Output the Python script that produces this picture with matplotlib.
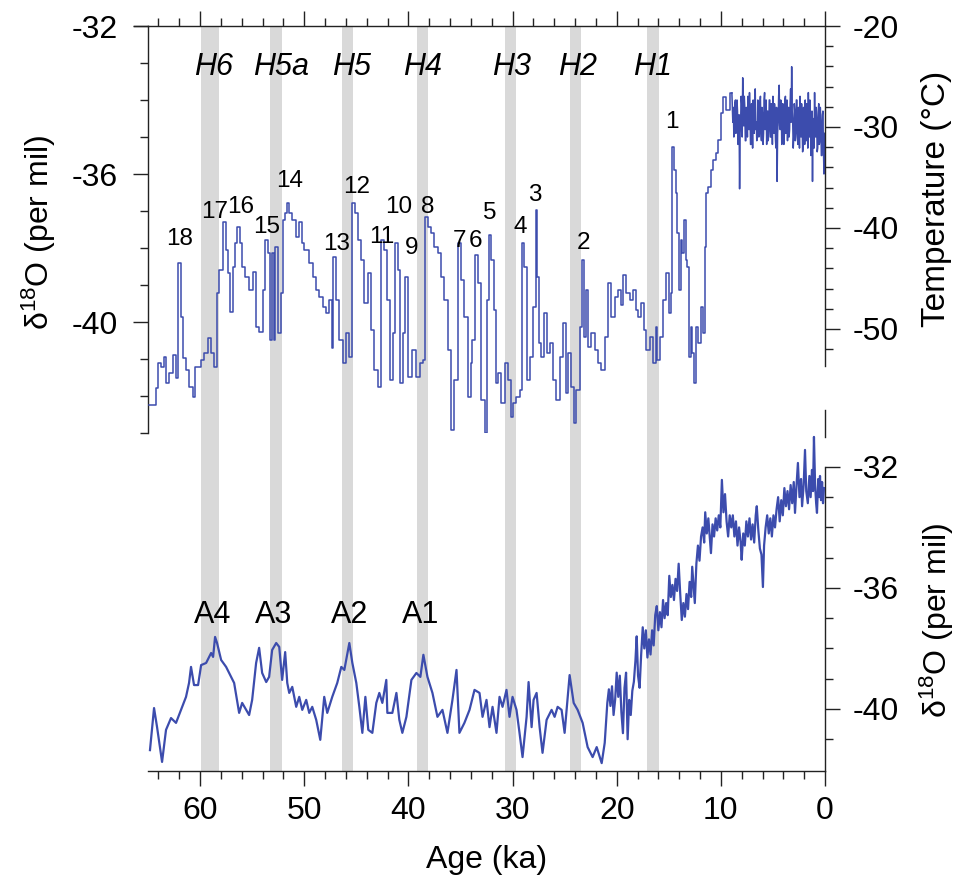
import matplotlib
matplotlib.use("Agg")
import matplotlib.pyplot as plt
from matplotlib.ticker import MultipleLocator, FixedLocator
from matplotlib.lines import Line2D

plt.rcParams['font.family'] = ['Liberation Sans', 'DejaVu Sans']
plt.rcParams['mathtext.fontset'] = 'custom'
plt.rcParams['mathtext.rm'] = 'Liberation Sans'
plt.rcParams['mathtext.it'] = 'Liberation Sans:italic'
plt.rcParams['axes.unicode_minus'] = False

# ---------------- data ----------------
# upper record, glacial part (age ka, d18O per mil)
top_glacial_age = [64.90, 64.42, 64.13, 63.94, 63.65, 63.37, 63.17, 62.79, 62.50, 62.21,
    62.02, 61.73, 61.54, 61.25, 60.87, 60.58, 60.38, 60.10, 59.81, 59.42,
    59.13, 58.85, 58.46, 58.37, 57.98, 57.69, 57.40, 57.21, 57.02, 56.73,
    56.54, 56.35, 56.06, 55.87, 55.48, 55.10, 54.81, 54.52, 54.13, 53.85,
    53.65, 53.37, 53.17, 52.98, 52.88, 52.69, 52.40, 52.12, 52.02, 51.73,
    51.63, 51.35, 50.96, 50.67, 50.29, 50.19, 49.81, 49.33, 49.04, 48.75,
    48.37, 48.08, 47.79, 47.40, 47.31, 47.12, 46.83, 46.44, 46.15, 45.87,
    45.48, 45.29, 45.00, 44.71, 44.42, 44.04, 43.75, 43.46, 43.08, 42.79,
    42.50, 42.12, 41.92, 41.63, 41.35, 41.15, 40.87, 40.67, 40.38, 40.19,
    39.90, 39.42, 39.13, 38.65, 38.46, 38.27, 37.98, 37.69, 37.31, 37.02,
    36.73, 36.35, 36.06, 35.77, 35.38, 35.10, 34.81, 34.42, 34.13, 33.94,
    33.75, 33.46, 33.17, 32.88, 32.50, 32.31, 32.21, 31.92, 31.73, 31.54,
    31.25, 30.96, 30.58, 30.29, 30.10, 29.81, 29.52, 29.13, 29.04, 28.75,
    28.56, 28.17, 27.88, 27.69, 27.60, 27.40, 27.12, 26.83, 26.54, 26.25,
    25.96, 25.67, 25.29, 25.00, 24.81, 24.52, 24.23, 24.04, 23.75, 23.37,
    23.27, 23.08, 22.88, 22.60, 22.31, 21.92, 21.63, 21.35, 20.96, 20.67,
    20.38, 20.00, 19.71, 19.52, 19.23, 18.94, 18.56, 18.27, 18.08, 17.79,
    17.50, 17.31, 17.02, 16.63, 16.35, 16.15, 16.06, 15.67, 15.38, 15.10,
    14.90, 14.71, 14.62, 14.42, 14.23, 14.13, 13.94, 13.75, 13.65, 13.46,
    13.27, 13.17, 12.98, 12.79, 12.69, 12.50, 12.31, 12.02, 11.83, 11.63,
    11.44, 11.35, 11.06, 10.87, 10.58, 10.38, 10.10, 9.90, 9.62, 9.33, 8.94]
top_glacial_d18o = [-42.24, -42.24, -41.78, -41.11, -41.22, -40.95, -41.65, -41.38, -40.89, -41.51,
    -38.41, -39.86, -40.97, -41.30, -41.76, -42.03, -41.22, -41.22, -41.03, -40.84,
    -40.43, -40.84, -41.22, -39.22, -38.59, -37.30, -38.05, -38.68, -39.73, -38.51,
    -37.86, -37.43, -37.86, -38.51, -38.78, -39.14, -38.65, -40.14, -40.27, -39.14,
    -37.78, -38.14, -40.49, -38.14, -40.49, -37.97, -40.30, -39.22, -37.24, -37.05,
    -36.78, -37.05, -37.24, -37.70, -37.30, -37.86, -38.05, -38.41, -38.78, -39.14,
    -39.32, -39.59, -39.76, -39.41, -40.70, -38.24, -39.41, -40.49, -41.11, -40.30,
    -40.95, -36.78, -37.05, -37.78, -38.32, -39.49, -38.68, -40.22, -41.30, -41.76,
    -37.78, -38.05, -39.41, -41.57, -40.30, -37.86, -38.59, -41.65, -40.30, -38.78,
    -41.49, -40.76, -41.49, -41.11, -41.03, -37.16, -37.43, -37.59, -37.97, -38.14,
    -38.78, -39.41, -40.76, -42.92, -41.57, -37.86, -38.86, -39.86, -42.03, -41.11,
    -40.49, -38.19, -38.95, -42.11, -43.00, -39.41, -37.65, -38.32, -39.68, -41.65,
    -41.38, -42.19, -41.11, -41.57, -42.57, -42.19, -42.03, -41.84, -37.86, -38.51,
    -41.57, -40.95, -39.59, -36.97, -38.78, -40.57, -40.95, -39.76, -40.84, -40.57,
    -41.57, -42.11, -40.95, -40.03, -41.92, -40.84, -41.76, -42.73, -41.84, -40.14,
    -38.32, -40.41, -39.14, -40.68, -40.30, -40.76, -41.11, -41.30, -40.41, -38.95,
    -39.86, -39.32, -39.14, -39.54, -38.73, -39.22, -39.41, -39.14, -39.68, -39.86,
    -39.49, -40.22, -40.76, -40.41, -41.11, -40.14, -41.03, -40.41, -39.41, -38.68,
    -39.76, -39.22, -35.27, -35.89, -36.51, -37.59, -39.14, -37.78, -38.14, -37.24,
    -38.32, -38.51, -40.95, -40.14, -40.84, -41.65, -40.14, -40.57, -39.59, -40.30,
    -37.97, -36.51, -36.35, -35.89, -35.62, -35.43, -35.08, -34.35, -33.92, -34.27, -33.81]

# upper record, Holocene part
top_holocene_age = [8.94, 8.85, 8.8, 8.75, 8.7, 8.65, 8.6, 8.55, 8.5, 8.45, 8.4, 8.35, 8.3, 8.25,
    8.2, 8.15, 8.1, 8.05, 8.0, 7.95, 7.9, 7.85, 7.8, 7.75, 7.7, 7.65, 7.6, 7.55,
    7.5, 7.45, 7.4, 7.35, 7.3, 7.25, 7.2, 7.15, 7.1, 7.05, 7.0, 6.95, 6.9, 6.85,
    6.8, 6.75, 6.7, 6.65, 6.6, 6.55, 6.5, 6.45, 6.4, 6.35, 6.3, 6.25, 6.2, 6.15,
    6.1, 6.05, 6.0, 5.95, 5.9, 5.85, 5.8, 5.75, 5.7, 5.65, 5.6, 5.55, 5.5, 5.45,
    5.4, 5.35, 5.3, 5.25, 5.2, 5.15, 5.1, 5.05, 5.0, 4.95, 4.9, 4.85, 4.8, 4.75,
    4.7, 4.65, 4.6, 4.55, 4.5, 4.45, 4.4, 4.35, 4.3, 4.25, 4.2, 4.15, 4.1, 4.05,
    4.0, 3.95, 3.9, 3.85, 3.8, 3.75, 3.7, 3.65, 3.6, 3.55, 3.5, 3.45, 3.4, 3.35,
    3.3, 3.25, 3.2, 3.15, 3.1, 3.05, 3.0, 2.95, 2.9, 2.85, 2.8, 2.75, 2.7, 2.65,
    2.6, 2.55, 2.5, 2.45, 2.4, 2.35, 2.3, 2.25, 2.2, 2.15, 2.1, 2.05, 2.0, 1.95,
    1.9, 1.85, 1.8, 1.75, 1.7, 1.65, 1.6, 1.55, 1.5, 1.45, 1.4, 1.35, 1.3, 1.25,
    1.2, 1.15, 1.1, 1.05, 1.0, 0.95, 0.9, 0.85, 0.8, 0.75, 0.7, 0.65, 0.6, 0.55,
    0.5, 0.45, 0.4, 0.35, 0.3, 0.25, 0.2, 0.15, 0.1, 0.05]
top_holocene_d18o = [-33.81, -34.6, -34.2, -35.0, -34.9, -34.1, -34.0, -34.9, -34.8, -34.0,
    -34.3, -35.2, -35.0, -34.4, -36.4, -34.9, -34.6, -33.9, -34.1, -35.0,
    -33.4, -34.5, -34.7, -33.9, -34.2, -35.1, -35.1, -34.2, -34.4, -35.0,
    -33.9, -34.6, -34.8, -33.8, -34.3, -35.2, -35.2, -34.1, -34.5, -35.3,
    -34.0, -34.7, -34.9, -34.0, -33.7, -34.8, -34.6, -35.1, -35.0, -34.0,
    -34.2, -35.0, -34.8, -34.1, -33.9, -34.9, -35.1, -34.2, -34.4, -35.2,
    -34.9, -34.0, -33.8, -34.8, -34.7, -34.0, -35.2, -34.3, -34.3, -35.1,
    -34.8, -34.0, -34.0, -35.0, -35.0, -34.1, -34.5, -35.2, -33.9, -34.6,
    -34.9, -34.1, -34.3, -35.1, -35.3, -34.2, -36.2, -34.9, -34.6, -33.9,
    -33.6, -34.7, -34.8, -34.0, -34.2, -35.2, -35.0, -34.1, -34.4, -35.2,
    -34.9, -34.0, -33.9, -34.9, -34.7, -34.0, -35.1, -34.3, -34.2, -35.0,
    -34.8, -34.1, -33.7, -34.6, -33.1, -34.3, -34.6, -35.3, -35.0, -34.1,
    -34.3, -35.1, -34.9, -34.0, -34.0, -35.0, -35.2, -34.2, -34.5, -35.3,
    -33.9, -34.7, -35.0, -34.1, -34.4, -35.4, -35.3, -34.2, -34.6, -35.2,
    -34.0, -34.8, -35.1, -34.1, -34.5, -35.3, -33.8, -34.6, -35.0, -34.0,
    -34.4, -35.5, -35.4, -34.3, -36.2, -34.5, -34.7, -35.3, -33.8, -34.9,
    -35.0, -34.2, -34.5, -35.4, -35.3, -34.3, -34.1, -35.2, -35.1, -34.2,
    -34.6, -35.5, -35.5, -34.4, -34.3, -35.3, -36.0, -34.9]

# lower record
bot_age = [64.81, 64.42, 64.13, 63.65, 63.27, 62.79, 62.31, 61.83, 61.35, 61.06,
    60.87, 60.58, 60.19, 59.90, 59.42, 58.94, 58.75, 58.56, 58.37, 57.98,
    57.50, 57.02, 56.73, 56.25, 55.96, 55.58, 55.29, 55.00, 54.62, 54.33,
    54.04, 53.65, 53.37, 53.08, 52.69, 52.40, 52.12, 51.83, 51.63, 51.44,
    51.15, 50.77, 50.48, 50.19, 49.81, 49.52, 49.23, 48.85, 48.46, 48.08,
    47.79, 47.31, 46.83, 46.44, 46.15, 45.67, 45.38, 45.00, 44.71, 44.42,
    44.13, 43.85, 43.46, 43.08, 42.79, 42.50, 42.12, 42.02, 41.54, 41.15,
    40.87, 40.58, 40.19, 39.71, 39.23, 38.85, 38.56, 38.17, 37.69, 37.21,
    36.73, 36.25, 35.77, 35.38, 35.10, 34.62, 34.13, 33.65, 33.17, 32.88,
    32.50, 32.21, 31.92, 31.54, 31.25, 30.96, 30.58, 30.29, 30.00, 29.62,
    29.33, 29.04, 28.65, 28.46, 28.17, 27.98, 27.69, 27.40, 27.12, 26.73,
    26.25, 25.96, 25.67, 25.29, 25.00, 24.52, 24.13, 23.75, 23.27, 22.79,
    22.31, 21.92, 21.44, 21.15,
    20.90, 20.75, 20.60, 20.45, 20.30, 20.15, 20.00, 19.85, 19.70, 19.55,
    19.40, 19.25, 19.10, 18.95, 18.80, 18.65, 18.50, 18.35, 18.20, 18.08,
    17.95, 17.80, 17.65, 17.50, 17.35, 17.20, 17.05, 16.90, 16.75, 16.60,
    16.45, 16.30, 16.15, 16.00, 15.85, 15.70, 15.55, 15.40, 15.25, 15.10,
    14.95, 14.80, 14.65, 14.50, 14.35, 14.20, 14.05, 13.90, 13.75, 13.60,
    13.45, 13.30, 13.15, 13.00, 12.85, 12.75, 12.60, 12.50, 12.35, 12.20,
    12.05, 11.90, 11.75, 11.60, 11.50, 11.35, 11.20, 11.05, 10.95, 10.80,
    10.65, 10.50, 10.35, 10.20, 10.05, 9.95, 9.90, 9.75, 9.60, 9.45,
    9.30, 9.15, 9.00, 8.85, 8.70, 8.55, 8.40, 8.25, 8.10, 8.00,
    7.85, 7.70, 7.55, 7.40, 7.25, 7.10, 6.95, 6.80, 6.65, 6.55,
    6.40, 6.25, 6.10, 5.96, 5.85, 5.70, 5.55, 5.40, 5.25, 5.10,
    4.95, 4.80, 4.65, 4.50, 4.35, 4.20, 4.05, 3.90, 3.75, 3.60,
    3.45, 3.30, 3.15, 3.00, 2.88, 2.75, 2.60, 2.45, 2.30, 2.20,
    2.05, 1.92, 1.80, 1.65, 1.50, 1.38, 1.25, 1.15, 1.06, 0.95,
    0.85, 0.77, 0.65, 0.55, 0.48, 0.38, 0.28, 0.19, 0.10]
bot_d18o = [-41.36, -39.97, -40.60, -41.75, -40.69, -40.30, -40.46, -40.03, -39.60, -39.14,
    -38.61, -39.21, -39.21, -38.55, -38.48, -38.15, -38.28, -37.62, -37.82, -38.38,
    -38.61, -38.94, -39.14, -40.13, -39.80, -40.03, -40.20, -39.70, -38.48, -37.98,
    -38.81, -39.11, -38.94, -38.05, -37.82, -37.95, -39.04, -38.12, -39.14, -39.47,
    -39.27, -39.93, -39.60, -40.03, -39.70, -40.13, -39.93, -40.36, -41.02, -39.60,
    -40.13, -39.60, -39.14, -38.61, -38.71, -37.82, -38.48, -39.14, -39.93, -40.79,
    -39.60, -40.69, -40.79, -39.80, -39.47, -39.80, -39.04, -40.13, -40.13, -39.47,
    -40.36, -40.79, -40.26, -39.04, -38.81, -38.94, -38.21, -38.94, -39.47, -40.26,
    -40.03, -40.79, -39.70, -38.71, -40.79, -40.46, -40.03, -39.37, -39.47, -40.26,
    -39.70, -40.60, -39.93, -40.79, -39.60, -39.93, -39.37, -40.26, -39.60, -40.03,
    -40.79, -41.59, -40.26, -39.11, -40.60, -39.70, -39.47, -40.60, -41.45, -40.36,
    -40.03, -40.26, -39.93, -40.03, -40.79, -38.88, -39.80, -40.03, -40.46, -41.26,
    -41.59, -41.26, -41.79, -41.12,
    -39.80, -39.35, -39.90, -39.25, -40.20, -39.70, -38.80, -39.60, -38.90, -40.10,
    -40.80, -39.30, -38.80, -41.00, -39.70, -40.20, -39.40, -39.10, -38.40, -37.60,
    -38.90, -39.30, -38.20, -37.30, -38.00, -37.40, -38.30, -37.70, -38.20, -37.40,
    -37.90, -36.90, -36.60, -37.40, -36.80, -37.30, -36.40, -37.00, -36.50, -36.90,
    -35.60, -36.30, -35.90, -36.40, -35.70, -36.10, -35.20, -36.20, -37.06, -36.50,
    -36.95, -36.20, -36.70, -35.80, -36.30, -35.30, -36.00, -36.50, -35.20, -34.60,
    -35.10, -34.30, -34.00, -34.50, -33.50, -34.20, -33.70, -34.40, -34.85, -33.90,
    -34.30, -33.70, -34.10, -33.60, -34.00, -32.90, -32.43, -33.50, -32.90, -33.80,
    -34.30, -33.60, -34.00, -33.60, -34.30, -33.80, -34.60, -34.00, -34.50, -35.07,
    -34.20, -34.60, -33.80, -34.30, -33.70, -34.40, -33.90, -34.50, -33.60, -33.30,
    -34.10, -34.70, -34.90, -35.97, -34.60, -34.00, -33.60, -34.20, -33.70, -34.30,
    -33.60, -34.00, -33.40, -33.00, -33.80, -33.10, -33.60, -32.70, -33.30, -32.80,
    -33.40, -32.60, -33.20, -32.50, -33.52, -32.70, -31.87, -33.00, -32.40, -33.30,
    -32.60, -31.44, -32.80, -33.20, -32.30, -33.00, -32.10, -32.80, -31.01, -32.60,
    -33.20, -33.52, -32.40, -33.00, -32.30, -33.10, -32.50, -33.20, -32.70]

# Heinrich events (shaded bands, ka)
band_names = ['H6', 'H5a', 'H5', 'H4', 'H3', 'H2', 'H1']
band_start = [59.9, 53.3, 46.4, 39.2, 30.7, 24.45, 17.05]
band_end = [58.2, 52.1, 45.3, 38.1, 29.7, 23.4, 15.95]
band_label_age = [58.7, 52.2, 45.5, 38.6, 30.1, 23.8, 16.6]

# Dansgaard-Oeschger interstadial numbers
do_labels = ['18', '17', '16', '15', '14', '13', '12', '11', '10', '9', '8',
             '7', '6', '5', '4', '3', '2', '1']
do_age = [62.0, 58.6, 56.1, 53.6, 51.4, 46.9, 45.0, 42.6, 40.9, 39.7, 38.1,
          35.1, 33.6, 32.2, 29.3, 27.9, 23.2, 14.7]
do_d18o = [-37.76, -37.03, -36.90, -37.43, -36.20, -37.90, -36.35, -37.70, -36.90,
           -38.00, -36.90, -37.80, -37.80, -37.05, -37.43, -36.57, -37.87, -34.60]

# Antarctic warm events
a_labels = ['A4', 'A3', 'A2', 'A1']
a_age = [58.8, 52.9, 45.6, 38.8]
a_d18o = [-36.9, -36.9, -36.9, -36.9]

# ---------------- figure ----------------
W, H = 964, 882
fig = plt.figure(figsize=(W / 100, H / 100), dpi=100)

def rect(x0, y0, x1, y1):
    return [x0 / W, 1 - y1 / H, (x1 - x0) / W, (y1 - y0) / H]

LINE = '#3c4cad'
BAND = '#d9d9d9'
SPINE = '#222222'
TICKFS = 23

ax_bot = fig.add_axes(rect(148, 410, 825, 771))
ax_top = fig.add_axes(rect(148, 26, 825, 433))
ax_bot.set_zorder(1)
ax_top.set_zorder(2)
ax_top.patch.set_visible(False)
ax_tmp = ax_top.twinx()
ax_tmp.set_zorder(3)
ax_tmp.patch.set_visible(False)

for ax in (ax_top, ax_bot):
    ax.set_xlim(65, 0)
    for s, e in zip(band_start, band_end):
        ax.axvspan(s, e, color=BAND, lw=0, zorder=0)

# top curve
ax_top.plot(top_glacial_age, top_glacial_d18o, color=LINE, lw=1.1,
            drawstyle='steps-mid', zorder=3)
ax_top.plot(top_holocene_age, top_holocene_d18o, color=LINE, lw=1.1, zorder=3)
ax_top.set_ylim(-43, -32)
ax_tmp.set_ylim(-60.3, -20)

# bottom curve
ax_bot.plot(bot_age, bot_d18o, color=LINE, lw=1.6, zorder=3)
ax_bot.set_ylim(-42.05, -30.12)

# spines
for sp in ['right', 'bottom']:
    ax_top.spines[sp].set_visible(False)
for sp in ['left', 'top', 'bottom']:
    ax_tmp.spines[sp].set_visible(False)
for sp in ['left', 'top']:
    ax_bot.spines[sp].set_visible(False)
for ax in (ax_top, ax_tmp, ax_bot):
    for sp in ax.spines.values():
        sp.set_color(SPINE)
        sp.set_linewidth(1.0)
ax_top.add_line(Line2D([-0.02, 0], [1, 1], transform=ax_top.transAxes,
                       color=SPINE, lw=1.0, clip_on=False))
ax_tmp.spines['right'].set_bounds(-53.7, -20)
ax_bot.spines['right'].set_bounds(-42.05, -32)
ax_bot.add_line(Line2D([1, 1], [1, 0.925], transform=ax_bot.transAxes,
                       color=SPINE, lw=1.0, clip_on=False))

# ticks top panel
ax_top.xaxis.set_ticks_position('top')
ax_top.xaxis.set_major_locator(MultipleLocator(10))
ax_top.xaxis.set_minor_locator(MultipleLocator(2))
ax_top.tick_params(axis='x', which='both', labeltop=False, labelbottom=False,
                   direction='out', color=SPINE)
ax_top.yaxis.set_major_locator(FixedLocator([-32, -36, -40]))
ax_top.yaxis.set_minor_locator(MultipleLocator(1))
ax_top.tick_params(axis='y', which='both', direction='out', color=SPINE,
                   labelsize=TICKFS, pad=11)
ax_top.tick_params(which='major', length=11, width=1.0)
ax_top.tick_params(which='minor', length=5.5, width=1.0)

ax_tmp.yaxis.set_major_locator(FixedLocator([-20, -30, -40, -50]))
ax_tmp.yaxis.set_minor_locator(FixedLocator(list(range(-52, -20, 2))))
ax_tmp.tick_params(axis='y', which='both', direction='out', color=SPINE,
                   labelsize=TICKFS, pad=9)
ax_tmp.tick_params(which='major', length=11, width=1.0)
ax_tmp.tick_params(which='minor', length=5.5, width=1.0)

# ticks bottom panel
ax_bot.xaxis.set_major_locator(MultipleLocator(10))
ax_bot.xaxis.set_minor_locator(MultipleLocator(2))
ax_bot.tick_params(axis='x', which='both', direction='out', color=SPINE,
                   labelsize=TICKFS, pad=7)
ax_bot.yaxis.set_ticks_position('right')
ax_bot.yaxis.set_major_locator(FixedLocator([-32, -36, -40]))
ax_bot.yaxis.set_minor_locator(FixedLocator([-41, -39, -38, -37, -35, -34, -33]))
ax_bot.tick_params(axis='y', which='both', direction='out', color=SPINE,
                   labelsize=TICKFS, pad=9)
ax_bot.tick_params(which='major', length=11, width=1.0)
ax_bot.tick_params(which='minor', length=5.5, width=1.0)

# labels on curves
for name, a in zip(band_names, band_label_age):
    ax_top.text(a, -33.1, name, fontsize=22, style='italic', ha='center',
                va='center', zorder=5)
for lab, a, v in zip(do_labels, do_age, do_d18o):
    ax_top.text(a, v, lab, fontsize=17.5, ha='center', va='center', zorder=5)
for lab, a, v in zip(a_labels, a_age, a_d18o):
    ax_bot.text(a, v, lab, fontsize=22, ha='center', va='center', zorder=5)

# axis titles
fig.text(39 / W, 1 - 232 / H, 'δ$^{18}$O (per mil)', rotation=90,
         fontsize=23, ha='center', va='center')
fig.text(937 / W, 1 - 199 / H, 'Temperature (°C)', rotation=90,
         fontsize=24, ha='center', va='center')
fig.text(937 / W, 1 - 620 / H, 'δ$^{18}$O (per mil)', rotation=90,
         fontsize=23, ha='center', va='center')
fig.text(487 / W, 1 - 860 / H, 'Age (ka)', fontsize=23, ha='center', va='center')

fig.savefig('out.png', dpi=100)
